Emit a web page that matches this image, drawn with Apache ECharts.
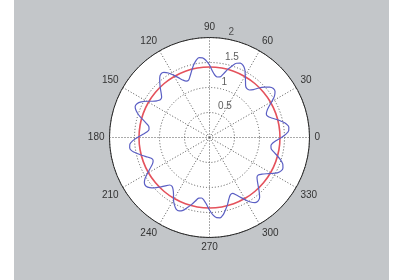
<!DOCTYPE html>
<html>
<head>
<meta charset="utf-8">
<script src="https://cdn.jsdelivr.net/npm/echarts@6/dist/echarts.min.js"></script>
<style>
    html, body { margin: 0; padding: 0; background: #ffffff; }
    #main { width: 395px; height: 280px; }
</style>
</head>
<body>
<div id="main"></div>
<script>
// radius ring labels (MATLAB polar style)
const radiusTicks = [0.5, 1, 1.5, 2];

// wavy blue curve, read every 2.5 degrees (one row = 30 degrees)
const blueAngles = [
    0, 2.5, 5, 7.5, 10, 12.5, 15, 17.5, 20, 22.5, 25, 27.5,
    30, 32.5, 35, 37.5, 40, 42.5, 45, 47.5, 50, 52.5, 55, 57.5,
    60, 62.5, 65, 67.5, 70, 72.5, 75, 77.5, 80, 82.5, 85, 87.5,
    90, 92.5, 95, 97.5, 100, 102.5, 105, 107.5, 110, 112.5, 115, 117.5,
    120, 122.5, 125, 127.5, 130, 132.5, 135, 137.5, 140, 142.5, 145, 147.5,
    150, 152.5, 155, 157.5, 160, 162.5, 165, 167.5, 170, 172.5, 175, 177.5,
    180, 182.5, 185, 187.5, 190, 192.5, 195, 197.5, 200, 202.5, 205, 207.5,
    210, 212.5, 215, 217.5, 220, 222.5, 225, 227.5, 230, 232.5, 235, 237.5,
    240, 242.5, 245, 247.5, 250, 252.5, 255, 257.5, 260, 262.5, 265, 267.5,
    270, 272.5, 275, 277.5, 280, 282.5, 285, 287.5, 290, 292.5, 295, 297.5,
    300, 302.5, 305, 307.5, 310, 312.5, 315, 317.5, 320, 322.5, 325, 327.5,
    330, 332.5, 335, 337.5, 340, 342.5, 345, 347.5, 350, 352.5, 355, 357.5,
    360
];
const blueR = [
    1.44, 1.53, 1.59, 1.60, 1.56, 1.48, 1.39, 1.30, 1.24, 1.23, 1.27, 1.34,
    1.44, 1.54, 1.60, 1.61, 1.57, 1.49, 1.40, 1.30, 1.24, 1.23, 1.26, 1.34,
    1.43, 1.53, 1.59, 1.61, 1.58, 1.50, 1.41, 1.31, 1.23, 1.22, 1.25, 1.33,
    1.45, 1.54, 1.60, 1.61, 1.56, 1.48, 1.38, 1.29, 1.22, 1.22, 1.27, 1.35,
    1.44, 1.53, 1.59, 1.60, 1.55, 1.47, 1.39, 1.31, 1.25, 1.24, 1.28, 1.35,
    1.45, 1.54, 1.60, 1.61, 1.56, 1.48, 1.38, 1.29, 1.23, 1.22, 1.26, 1.34,
    1.44, 1.54, 1.60, 1.61, 1.57, 1.48, 1.39, 1.30, 1.23, 1.22, 1.26, 1.34,
    1.43, 1.53, 1.59, 1.60, 1.56, 1.49, 1.40, 1.31, 1.24, 1.23, 1.27, 1.34,
    1.44, 1.52, 1.58, 1.59, 1.55, 1.47, 1.39, 1.30, 1.23, 1.22, 1.26, 1.34,
    1.45, 1.55, 1.61, 1.62, 1.57, 1.48, 1.39, 1.29, 1.22, 1.21, 1.27, 1.35,
    1.44, 1.53, 1.59, 1.60, 1.56, 1.47, 1.38, 1.30, 1.24, 1.23, 1.28, 1.35,
    1.44, 1.53, 1.58, 1.59, 1.56, 1.49, 1.40, 1.31, 1.25, 1.24, 1.27, 1.34,
    1.44
];

// red reference circle
const redAngles = [
    0, 10, 20, 30, 40, 50, 60, 70, 80, 90, 100, 110, 120,
    130, 140, 150, 160, 170, 180, 190, 200, 210, 220, 230, 240,
    250, 260, 270, 280, 290, 300, 310, 320, 330, 340, 350, 360
];
const redR = [
    1.41, 1.41, 1.41, 1.41, 1.41, 1.41, 1.41, 1.41, 1.41, 1.41, 1.41, 1.41, 1.41,
    1.41, 1.41, 1.41, 1.41, 1.41, 1.41, 1.41, 1.41, 1.41, 1.41, 1.41, 1.41,
    1.41, 1.41, 1.41, 1.41, 1.41, 1.41, 1.41, 1.41, 1.41, 1.41, 1.41, 1.41
];

const gridStyle = { color: '#555555', width: 1, type: [1, 2] };
const hidden = { show: false };

var myChart = echarts.init(document.getElementById('main'));
myChart.setOption({
    animation: false,
    backgroundColor: '#ffffff',
    textStyle: { fontFamily: 'Liberation Sans, Arial, sans-serif' },
    graphic: [{
        type: 'rect',
        z: -100,
        silent: true,
        shape: { x: 14, y: 0, width: 375, height: 280 },
        style: { fill: '#c3c6c9' }
    }],
    // polar 0: white disc only, polar 1: grid + data
    polar: [
        { center: [209.5, 137.5], radius: 100 },
        { center: [209.5, 137.5], radius: 100 }
    ],
    angleAxis: [
        {
            polarIndex: 0, type: 'value', min: 0, max: 360, interval: 30,
            startAngle: 0, clockwise: false, z: -10,
            axisLine: hidden, axisTick: hidden, axisLabel: hidden, splitLine: hidden,
            splitArea: { show: true, areaStyle: { color: ['#ffffff'] } }
        },
        {
            polarIndex: 1, type: 'value', min: 0, max: 360, interval: 30,
            startAngle: 0, clockwise: false,
            axisLine: { show: true, lineStyle: { color: '#2a2a2a', width: 1 } },
            axisTick: hidden,
            axisLabel: {
                margin: 5,
                color: '#333333',
                fontSize: 10,
                formatter: function (v) { return v === 360 ? '' : String(v); }
            },
            splitLine: { show: true, lineStyle: gridStyle },
            splitArea: hidden
        }
    ],
    radiusAxis: [
        {
            polarIndex: 0, type: 'value', min: 0, max: 2, interval: 0.5, z: -10,
            axisLine: hidden, axisTick: hidden, axisLabel: hidden, splitLine: hidden
        },
        {
            polarIndex: 1, type: 'value', min: 0, max: 2, interval: 0.5,
            axisLine: hidden, axisTick: hidden, axisLabel: hidden,
            splitLine: { show: true, lineStyle: gridStyle }
        }
    ],
    series: [
        {
            type: 'line',
            coordinateSystem: 'polar',
            polarIndex: 1,
            data: redAngles.map((a, i) => [redR[i], a]),
            smooth: true,
            showSymbol: false,
            lineStyle: { color: '#e4525c', width: 1.6 },
            z: 3
        },
        {
            type: 'line',
            coordinateSystem: 'polar',
            polarIndex: 1,
            data: blueAngles.map((a, i) => [blueR[i], a]),
            smooth: 0.3,
            showSymbol: false,
            lineStyle: { color: '#5b5fc4', width: 1.2 },
            z: 4
        },
        {
            // ring value labels at 82 degrees, like MATLAB polar
            type: 'scatter',
            coordinateSystem: 'polar',
            polarIndex: 1,
            data: radiusTicks.map(t => [t, 82]),
            symbolSize: 0,
            silent: true,
            label: {
                show: true,
                position: [5, -1],
                align: 'left',
                verticalAlign: 'bottom',
                color: '#333333',
                fontSize: 10,
                formatter: p => String(radiusTicks[p.dataIndex])
            },
            z: 5
        }
    ]
});
</script>
</body>
</html>
